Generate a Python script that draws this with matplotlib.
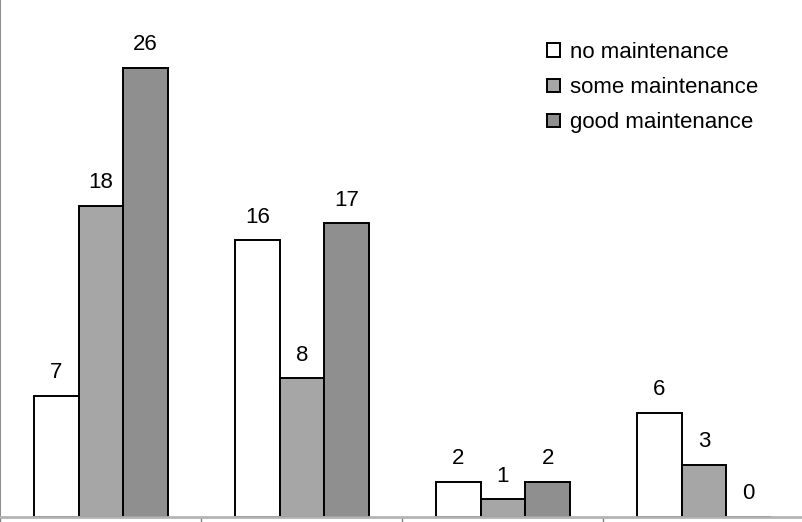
import numpy as np
import matplotlib
matplotlib.use("Agg")
import matplotlib.pyplot as plt

plt.rcParams['font.family'] = ['Liberation Sans', 'DejaVu Sans']

# data
groups = ['A', 'B', 'C', 'D']
series = ['no maintenance', 'some maintenance', 'good maintenance']
no_maint = [7, 16, 2, 6]
some_maint = [18, 8, 1, 3]
good_maint = [26, 17, 2, 0]
colors = ['#ffffff', '#a6a6a6', '#8f8f8f']

fig = plt.figure(figsize=(8.02, 5.22), dpi=100)
ax = fig.add_axes([0.0006, 0.0105, 1.0025, 0.992])

x = np.arange(len(groups))
w = 2 / 9
for i, (vals, name) in enumerate(zip([no_maint, some_maint, good_maint], series)):
    bars = ax.bar(x + (i - 1) * w, vals, width=w, color=colors[i],
                  edgecolor='black', linewidth=1.4, label=name, zorder=2)
    ax.bar_label(bars, padding=9, fontsize=16)

ax.set_xlim(-0.5, 3.5)
ax.set_ylim(0, 30)

ax.set_xticks(np.arange(-0.5, 4, 1))
ax.set_xticklabels([])
ax.set_yticks(range(0, 31, 5))
ax.set_yticklabels([])
ax.tick_params(axis='both', direction='out', length=5, color='#808080', width=1)

for s in ['top', 'right']:
    ax.spines[s].set_visible(False)
ax.spines['bottom'].set_color('#b4b4b4')
ax.spines['bottom'].set_linewidth(2)
ax.spines['bottom'].set_zorder(3)
ax.spines['left'].set_color('#909090')
ax.spines['left'].set_linewidth(1.5)

ax.legend(loc='upper left', bbox_to_anchor=(0.655, 0.955), frameon=False,
          fontsize=16, handlelength=0.56, handleheight=0.56,
          handletextpad=0.45, labelspacing=0.64)

fig.savefig('out.png', dpi=100)
